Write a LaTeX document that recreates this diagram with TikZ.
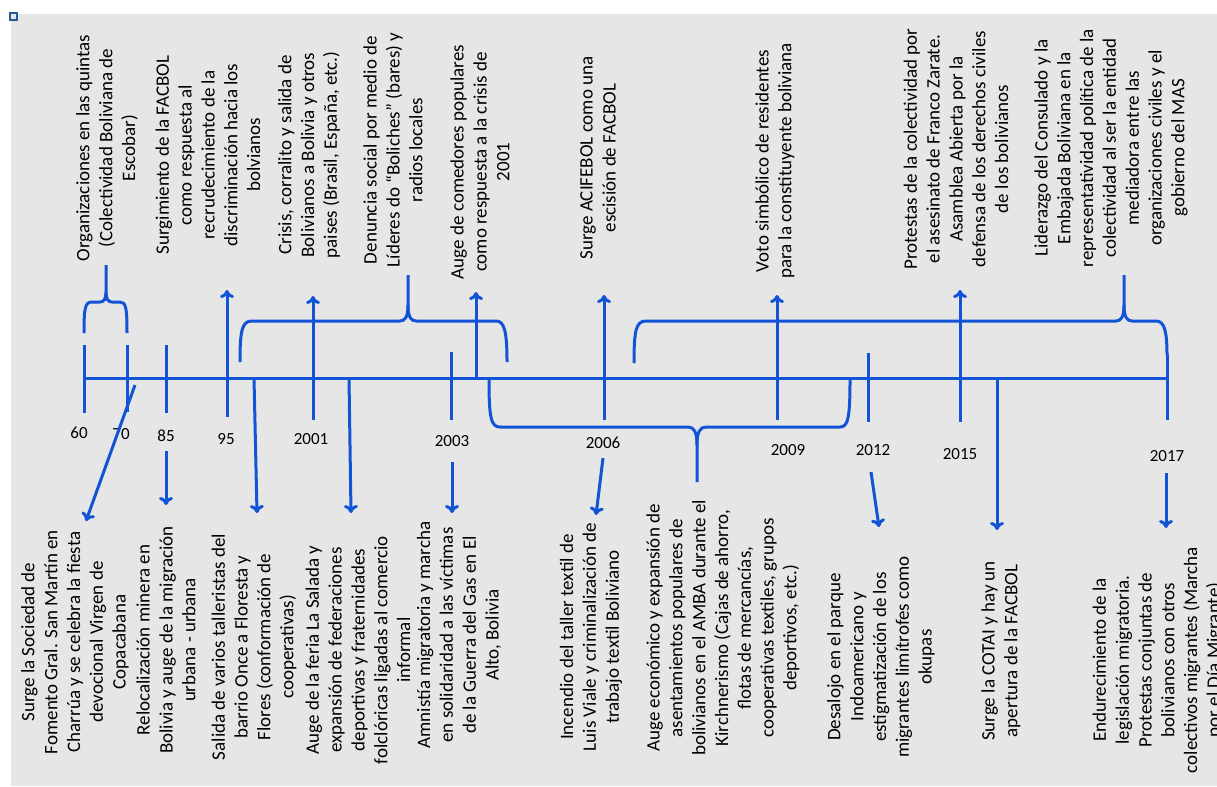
\documentclass[tikz,border=0pt]{standalone}
\usepackage{fontspec}
\setmainfont{Carlito}
\usetikzlibrary{arrows.meta}
\definecolor{lineblue}{RGB}{18,84,214}
\definecolor{panelgray}{RGB}{230,230,230}
\definecolor{markblue}{RGB}{44,88,150}

\begin{document}
\begin{tikzpicture}[x=0.5bp,y=-0.5bp,
  line node/.style={draw=lineblue,line width=1.5bp},
  arrow node/.style={line node,-{To[length=4bp,width=7bp]}},
  event node/.style={rotate=90,align=center,inner sep=0pt,font=\fontsize{9.5bp}{11.4bp}\selectfont},
  year node/.style={inner sep=1pt,font=\fontsize{8.5bp}{10bp}\selectfont}]

  \useasboundingbox (0,0) rectangle (1217,786);
  \fill[panelgray] (11,14) rectangle (1217,786);
  \draw[markblue,fill=white!85!markblue,line width=1bp] (10,13) rectangle (17,20);

  % events above the line
  \node[event node] (quintas) at (107,148) {Organizaciones en las quintas\\(Colectividad Boliviana de\\Escobar)};
  \node[event node] (facbol) at (208,155) {Surgimiento de la FACBOL\\como respuesta al\\recrudecimiento de la\\discriminación hacia los\\bolvianos};
  \node[event node] (crisis) at (309,155) {Crisis, corralito y salida de\\Bolivianos a Bolivia y otros\\paises (Brasil, España, etc.)};
  \node[event node] (boliches) at (393,150) {Denuncia social por medio de\\Líderes do ``Boliches'' (bares) y\\radios locales};
  \node[event node] (comedores) at (480,162) {Auge de comedores populares\\como respuesta a la crisis de\\2001};
  \node[event node] (acifebol) at (598,158) {Surge ACIFEBOL como una\\escisión de FACBOL};
  \node[event node] (voto) at (775,161) {Voto simbólico de residentes\\para la constituyente boliviana};
  \node[event node] (zarate) at (956,149) {Protestas de la colectividad por\\el asesinato de Franco Zarate.\\Asamblea Abierta por la\\defensa de los derechos civiles\\de los bolivianos};
  \node[event node] (consulado) at (1111,148) {Liderazgo del Consulado y la\\Embajada Boliviana en la\\representatividad política de la\\colectividad al ser la entidad\\mediadora entre las\\organizaciones civiles y el\\gobierno del MAS};

  % events below the line
  \node[event node] (sociedad) at (75,642) {Surge la Sociedad de\\Fomento Gral. San Martín en\\Charrúa y se celebra la fiesta\\devocional Virgen de\\Copacabana};
  \node[event node] (minera) at (166,640) {Relocalización minera en\\Bolivia y auge de la migración\\urbana - urbana};
  \node[event node] (talleristas) at (254,647) {Salida de varios talleristas del\\barrio Once a Floresta y\\Flores (conformación de\\cooperativas)};
  \node[event node] (salada) at (358,650) {Auge de la feria La Salada y\\expansión de federaciones\\deportivas y fraternidades\\folclóricas ligadas al comercio\\informal};
  \node[event node] (amnistia) at (459,635) {Amnistía migratoria y marcha\\en solidaridad a las víctimas\\de la Guerra del Gas en El\\Alto, Bolivia};
  \node[event node] (incendio) at (591,637) {Incendio del taller textil de\\Luis Viale y criminalización de\\trabajo textil Boliviano};
  \node[event node] (amba) at (723,628) {Auge económico y expansión de\\asentamientos populares de\\bolivianos en el AMBA durante el\\Kirchnerismo (Cajas de ahorro,\\flotas de mercancías,\\cooperativas textiles, grupos\\deportivos, etc.)};
  \node[event node] (desalojo) at (881,657) {Desalojo en el parque\\Indoamericano y\\estigmatización de los\\migrantes limítrofes como\\okupas};
  \node[event node] (cotai) at (1001,651) {Surge la COTAI y hay un\\apertura de la FACBOL};
  \node[event node] (marcha) at (1158,660) {Endurecimiento de la\\legislación migratoria.\\Protestas conjuntas de\\bolivianos con otros\\colectivos migrantes (Marcha\\por el Día Migrante)};

  % years
  \node[year node] (y60) at (79,433) {60};
  \node[year node] (y70) at (121,434) {70};
  \node[year node] (y85) at (166,436) {85};
  \node[year node] (y95) at (226,439) {95};
  \node[year node] (y2001) at (311,439) {2001};
  \node[year node] (y2003) at (452,441) {2003};
  \node[year node] (y2006) at (603,443) {2006};
  \node[year node] (y2009) at (788,450) {2009};
  \node[year node] (y2012) at (873,450) {2012};
  \node[year node] (y2015) at (960,454) {2015};
  \node[year node] (y2017) at (1167,456) {2017};

  % axis and ticks
  \draw[line node] (84,378) -- (1168,378);
  \draw[line node] (84,345) -- (84,413);
  \draw[line node] (127,345) -- (127,412);
  \draw[line node] (166,345) -- (166,413);
  \draw[line node] (451,352) -- (451,420);
  \draw[line node] (868,353) -- (868,422);
  \draw[line node] (1167,355) -- (1167,420);

  % arrows up
  \draw[arrow node] (227,417) -- (227,290);
  \draw[arrow node] (313,420) -- (313,296);
  \draw[arrow node] (476,378) -- (476,292);
  \draw[arrow node] (604,420) -- (604,295);
  \draw[arrow node] (777,420) -- (777,295);
  \draw[arrow node] (960,422) -- (960,290);

  % braces
  \draw[line node] (84,333) .. controls (84,308) and (85,302) .. (92,302) -- (100,302) .. controls (104,302) and (106,299) .. (106,292) -- (106,265);
  \draw[line node] (106,292) .. controls (106,299) and (108,302) .. (112,302) -- (120,302) .. controls (126,302) and (127,308) .. (127,333);
  \draw[line node] (240,362) .. controls (240,330) and (242,321) .. (252,321) -- (400,321) .. controls (405,321) and (408,317) .. (408,305) -- (408,275);
  \draw[line node] (408,305) .. controls (408,317) and (411,321) .. (416,321) -- (496,321) .. controls (504,321) and (507,330) .. (507,362);
  \draw[line node] (634,363) .. controls (634,330) and (636,321) .. (646,321) -- (1116,321) .. controls (1121,321) and (1124,317) .. (1124,305) -- (1124,275);
  \draw[line node] (1124,305) .. controls (1124,317) and (1127,321) .. (1132,321) -- (1156,321) .. controls (1164,321) and (1167,330) .. (1167,355);
  \draw[line node] (489,380) .. controls (489,418) and (491,427) .. (500,427) -- (688,427) .. controls (694,427) and (697,432) .. (697,445) -- (697,482);
  \draw[line node] (697,445) .. controls (697,432) and (700,427) .. (706,427) -- (840,427) .. controls (848,427) and (850,418) .. (850,380);

  % arrows down
  \draw[arrow node] (135,385) -- (86,521);
  \draw[arrow node] (166,451) -- (166,505);
  \draw[arrow node] (254,378) -- (257,513);
  \draw[arrow node] (349,378) -- (351,513);
  \draw[arrow node] (452,462) -- (452,513);
  \draw[arrow node] (603,458) -- (596,515);
  \draw[arrow node] (871,472) -- (879,527);
  \draw[arrow node] (997,378) -- (997,530);
  \draw[arrow node] (1166,473) -- (1166,528);
\end{tikzpicture}
\end{document}
